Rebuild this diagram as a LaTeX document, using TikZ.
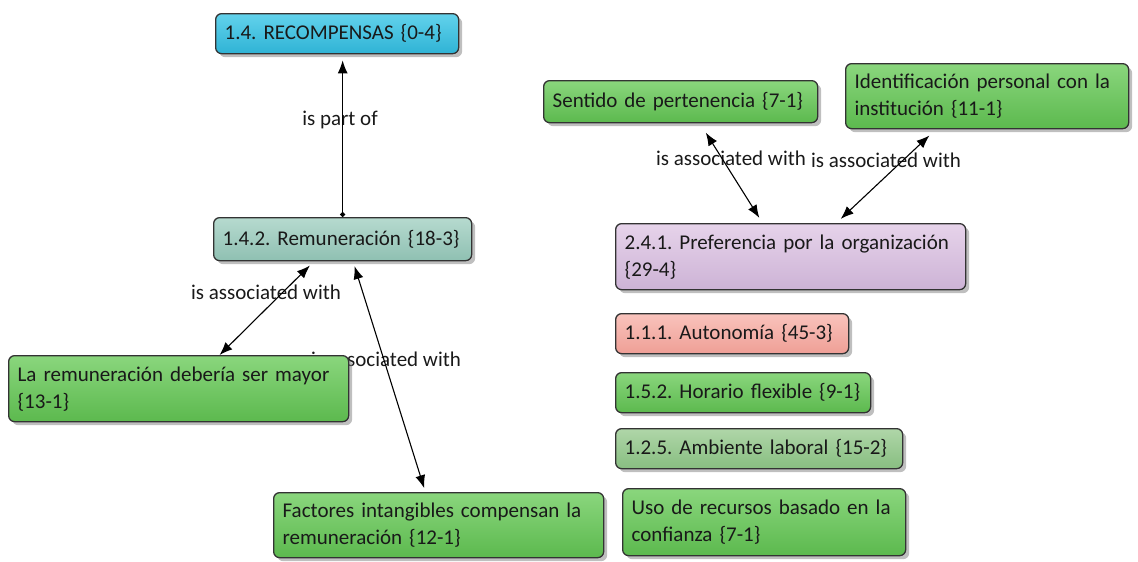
\documentclass[tikz,border=0pt]{standalone}
\usepackage{fontspec}
\setmainfont{Carlito}
\usepackage{tikz}
\usetikzlibrary{positioning}
\usetikzlibrary{calc}
\usetikzlibrary{shadows}
\usetikzlibrary{backgrounds}
\usetikzlibrary{arrows.meta}
\usepackage{xcolor}
\frenchspacing

\definecolor{boxline}{HTML}{333333}
\definecolor{greentop}{HTML}{8AD67D}
\definecolor{greenbot}{HTML}{5CB94E}
\definecolor{bluetop}{HTML}{62D2EC}
\definecolor{bluebot}{HTML}{2FB3D5}
\definecolor{tealtop}{HTML}{B6DACF}
\definecolor{tealbot}{HTML}{8FC0B2}
\definecolor{lilatop}{HTML}{E6D3EA}
\definecolor{lilabot}{HTML}{CDB3D6}
\definecolor{pinktop}{HTML}{F9C3BC}
\definecolor{pinkbot}{HTML}{EF9F96}
\definecolor{ambtop}{HTML}{AFD6A8}
\definecolor{ambbot}{HTML}{88BE81}

\begin{document}
\begin{tikzpicture}[x=1pt, y=-1pt,
  codebox/.style={draw=boxline, line width=1.3pt, rounded corners=6pt,
    anchor=north west, align=left, inner xsep=9pt, inner ysep=3pt,
    font=\fontsize{21}{27}\selectfont, text=black!90,
    drop shadow={shadow xshift=3.5pt, shadow yshift=-3.5pt, opacity=0.5}},
  greenbox/.style={codebox, top color=greentop, bottom color=greenbot},
  linkarrow/.style={line width=1.1pt, {Latex[length=13pt,width=10pt]}-{Latex[length=13pt,width=10pt]}},
  linklabel/.style={font=\fontsize{21}{24}\selectfont, text=black!90, inner sep=0pt}]

\useasboundingbox (0,0) rectangle (1138,562);

% left group
{
\node[codebox, top color=bluetop, bottom color=bluebot, minimum width=243pt, minimum height=40pt, text width=225pt]
  (rec) at (215,13) {1.4. RECOMPENSAS \{0-4\}};

\node[codebox, top color=tealtop, bottom color=tealbot, minimum width=258pt, minimum height=43pt, text width=240pt]
  (rem) at (213,217) {1.4.2. Remuneración \{18-3\}};

\node[greenbox, minimum width=340pt, minimum height=66pt, text width=322pt]
  (lar) at (8,355) {La remuneración debería ser mayor\\\{13-1\}};

\node[greenbox, minimum width=330pt, minimum height=65pt, text width=312pt]
  (fac) at (273,492) {Factores intangibles compensan la\\remuneración \{12-1\}};
}

% right group
{
\node[greenbox, minimum width=274pt, minimum height=42pt, text width=256pt]
  (sen) at (543,80) {Sentido de pertenencia \{7-1\}};

\node[greenbox, minimum width=283pt, minimum height=65pt, text width=265pt]
  (ide) at (845,63) {Identificación personal con la\\institución \{11-1\}};

\node[codebox, top color=lilatop, bottom color=lilabot, minimum width=350pt, minimum height=66pt, text width=332pt]
  (pre) at (615,223) {2.4.1. Preferencia por la organización\\\{29-4\}};

\node[codebox, top color=pinktop, bottom color=pinkbot, minimum width=233pt, minimum height=40pt, text width=215pt]
  (aut) at (615,313) {1.1.1. Autonomía \{45-3\}};

\node[greenbox, minimum width=255pt, minimum height=40pt, text width=237pt]
  (hor) at (615,372) {1.5.2. Horario flexible \{9-1\}};

\node[codebox, top color=ambtop, bottom color=ambbot, minimum width=287pt, minimum height=40pt, text width=269pt]
  (amb) at (615,428) {1.2.5. Ambiente laboral \{15-2\}};

\node[greenbox, minimum width=283pt, minimum height=67pt, text width=265pt]
  (uso) at (622,488) {Uso de recursos basado en la\\confianza \{7-1\}};
}

% connectors
\begin{scope}[on background layer]

\node[linklabel] (partof) at (340,120) {is part of};
\node[linklabel] (assoc1) at (266,292) {is associated with};
\node[linklabel] (assoc2) at (386,359) {is associated with};
\node[linklabel] (assoc3) at (731,158) {is associated with};
\node[linklabel] (assoc4) at (886,160) {is associated with};

\draw[line width=1.3pt, {Circle[length=5pt]}-{Latex[length=13pt,width=10pt]}, shorten >=6pt]
  (rem.north) -- (rem.north |- rec.south);

\draw[linkarrow, shorten <=6pt]
  ($(rem.south west)!0.39!(rem.south east)$) -- ($(lar.north west)!0.62!(lar.north east)$);

\draw[linkarrow, shorten <=5pt, shorten >=4pt]
  ($(rem.south west)!0.54!(rem.south east)$) -- ($(fac.north west)!0.46!(fac.north east)$);

\draw[linkarrow, shorten <=11pt, shorten >=6pt]
  ($(sen.south west)!0.57!(sen.south east)$) -- ($(pre.north west)!0.42!(pre.north east)$);

\draw[linkarrow, shorten <=9pt, shorten >=6pt]
  ($(ide.south west)!0.32!(ide.south east)$) -- ($(pre.north west)!0.63!(pre.north east)$);

\end{scope}

\end{tikzpicture}
\end{document}
